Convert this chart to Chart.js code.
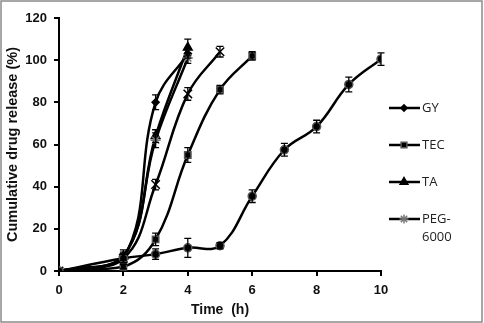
<!DOCTYPE html>
<html>
<head>
<meta charset="utf-8">
<script src="https://cdn.jsdelivr.net/npm/chart.js@4"></script>
<style>
    body { margin: 0; background: #fff; }
    #box { width: 484px; height: 323px; }
</style>
</head>
<body>
<div id="box"><canvas id="myChart" width="484" height="323"></canvas></div>
<script>
// time points (h)
const timeShort = [0, 2, 3, 4];
const timeMid = [0, 2, 3, 4, 5];
const timeTec = [0, 2, 3, 4, 5, 6];
const timeLong = [0, 2, 3, 4, 5, 6, 7, 8, 9, 10];

// cumulative drug release (%) and error (+/-)
const gyValues = [0, 6, 80, 103];
const gyErr = [0.5, 2, 3.5, 2];
const tecValues = [0, 2, 15, 55, 86, 102];
const tecErr = [0.5, 1, 3, 3.5, 2, 2];
const taValues = [0, 7, 64, 106];
const taErr = [0.5, 2, 3, 4];
const pegValues = [0, 7, 62, 101];
const pegErr = [0.5, 3, 3.5, 2.5];
const crossValues = [0, 6, 41, 84, 104];
const crossErr = [0.5, 2, 2.5, 3, 2.5];
const circleValues = [0, 6, 8, 11, 12, 35.5, 57.5, 68.5, 88.5, 100.5];
const circleErr = [0.5, 2, 2.5, 4.5, 1.5, 3, 3, 3, 3.5, 3];

const xTicks = [0, 2, 4, 6, 8, 10];
const yTicks = [0, 20, 40, 60, 80, 100, 120];

function pts(xs, ys) {
    return xs.map((x, i) => ({ x: x, y: ys[i] }));
}

function series(label, xs, ys, errs, style, radius, fill, stroke) {
    return {
        label: label,
        data: pts(xs, ys),
        errors: errs,
        borderColor: '#000',
        borderWidth: 2.5,
        tension: 0.4,
        pointStyle: style,
        pointRadius: radius,
        pointBackgroundColor: fill,
        pointBorderColor: stroke,
        pointBorderWidth: 1.5
    };
}

const datasets = [
    series('', timeLong, circleValues, circleErr, 'circle', 4, '#000', '#555'),
    series('', timeMid, crossValues, crossErr, 'crossRot', 6, '#000', '#000'),
    series('TEC', timeTec, tecValues, tecErr, 'rect', 4.5, '#000', '#555'),
    series('PEG-6000', timeShort, pegValues, pegErr, 'star', 5, '#777', '#777'),
    series('TA', timeShort, taValues, taErr, 'triangle', 5, '#000', '#000'),
    series('GY', timeShort, gyValues, gyErr, 'rectRot', 3.5, '#000', '#000')
];

const legendOrder = ['GY', 'TEC', 'TA', 'PEG-6000'];

const errorBars = {
    id: 'errorBars',
    afterDatasetsDraw(chart) {
        const ctx = chart.ctx;
        const ys = chart.scales.y;
        ctx.save();
        ctx.strokeStyle = '#000';
        ctx.lineWidth = 1.3;
        chart.data.datasets.forEach((ds, di) => {
            const meta = chart.getDatasetMeta(di);
            meta.data.forEach((pt, i) => {
                const e = ds.errors[i];
                if (!e || e < 1) return;
                const top = ys.getPixelForValue(ds.data[i].y + e);
                const bot = ys.getPixelForValue(ds.data[i].y - e);
                ctx.beginPath();
                ctx.moveTo(pt.x, top); ctx.lineTo(pt.x, bot);
                ctx.moveTo(pt.x - 3.5, top); ctx.lineTo(pt.x + 3.5, top);
                ctx.moveTo(pt.x - 3.5, bot); ctx.lineTo(pt.x + 3.5, bot);
                ctx.stroke();
            });
        });
        ctx.restore();
    }
};

const sideLegend = {
    id: 'sideLegend',
    afterDraw(chart) {
        const ctx = chart.ctx;
        const area = chart.chartArea;
        const x0 = area.right + 8;
        const rowY = [108, 145, 182, 219];
        ctx.save();
        legendOrder.forEach((name, i) => {
            const ds = chart.data.datasets.find(d => d.label === name);
            const y = rowY[i];
            ctx.strokeStyle = '#000';
            ctx.lineWidth = 2.5;
            ctx.beginPath();
            ctx.moveTo(x0, y); ctx.lineTo(x0 + 31, y);
            ctx.stroke();
            ctx.fillStyle = ds.pointBackgroundColor;
            ctx.strokeStyle = ds.pointBorderColor;
            ctx.lineWidth = ds.pointBorderWidth;
            Chart.helpers.drawPoint(ctx, {
                pointStyle: ds.pointStyle,
                radius: ds.pointRadius * 0.9,
                rotation: 0,
                borderWidth: ds.pointBorderWidth
            }, x0 + 15, y);
            ctx.fillStyle = '#222';
            ctx.font = '13px "Open Sans", sans-serif';
            ctx.textBaseline = 'middle';
            ctx.textAlign = 'left';
            if (name === 'PEG-6000') {
                ctx.fillText('PEG-', x0 + 33, y);
                ctx.fillText('6000', x0 + 33, y + 18);
            } else {
                ctx.fillText(name, x0 + 33, y);
            }
        });
        // outer frame
        ctx.strokeStyle = '#8a8a8a';
        ctx.lineWidth = 1.5;
        ctx.strokeRect(1, 1, chart.width - 3, chart.height - 2);
        ctx.restore();
    }
};

const tickFont = { family: '"Liberation Sans", Arial, sans-serif', size: 13, weight: 'bold' };
const xTitleFont = { family: '"Liberation Sans", Arial, sans-serif', size: 14, weight: 'bold' };
const yTitleFont = { family: '"Liberation Sans", Arial, sans-serif', size: 14.5, weight: 'bold' };

new Chart(document.getElementById('myChart').getContext('2d'), {
    type: 'line',
    data: { datasets: datasets },
    options: {
        responsive: false,
        animation: false,
        events: [],
        layout: { padding: { left: 0, right: 103, top: 18, bottom: 0 } },
        plugins: {
            legend: { display: false },
            tooltip: { enabled: false }
        },
        scales: {
            x: {
                type: 'linear',
                min: 0,
                max: 10,
                afterBuildTicks: axis => { axis.ticks = xTicks.map(v => ({ value: v })); },
                afterFit: axis => { axis.height = 52; },
                grid: { display: true, drawOnChartArea: false, drawTicks: true, tickLength: 5, color: '#000', lineWidth: 2 },
                border: { display: true, color: '#000', width: 2 },
                ticks: { color: '#111', font: tickFont, padding: 7, maxRotation: 0 },
                title: { display: true, text: 'Time  (h)', color: '#111', font: xTitleFont, padding: { top: 0, bottom: 4 } }
            },
            y: {
                min: 0,
                max: 120,
                afterBuildTicks: axis => { axis.ticks = yTicks.map(v => ({ value: v })); },
                afterFit: axis => { axis.width = 59; },
                grid: { display: true, drawOnChartArea: false, drawTicks: true, tickLength: 5, color: '#000', lineWidth: 2 },
                border: { display: true, color: '#000', width: 2 },
                ticks: { color: '#111', font: tickFont, padding: 7 },
                title: { display: true, text: 'Cumulative drug release (%)', color: '#111', font: yTitleFont, padding: { top: 4, bottom: 2 } }
            }
        }
    },
    plugins: [errorBars, sideLegend]
});
</script>
</body>
</html>
